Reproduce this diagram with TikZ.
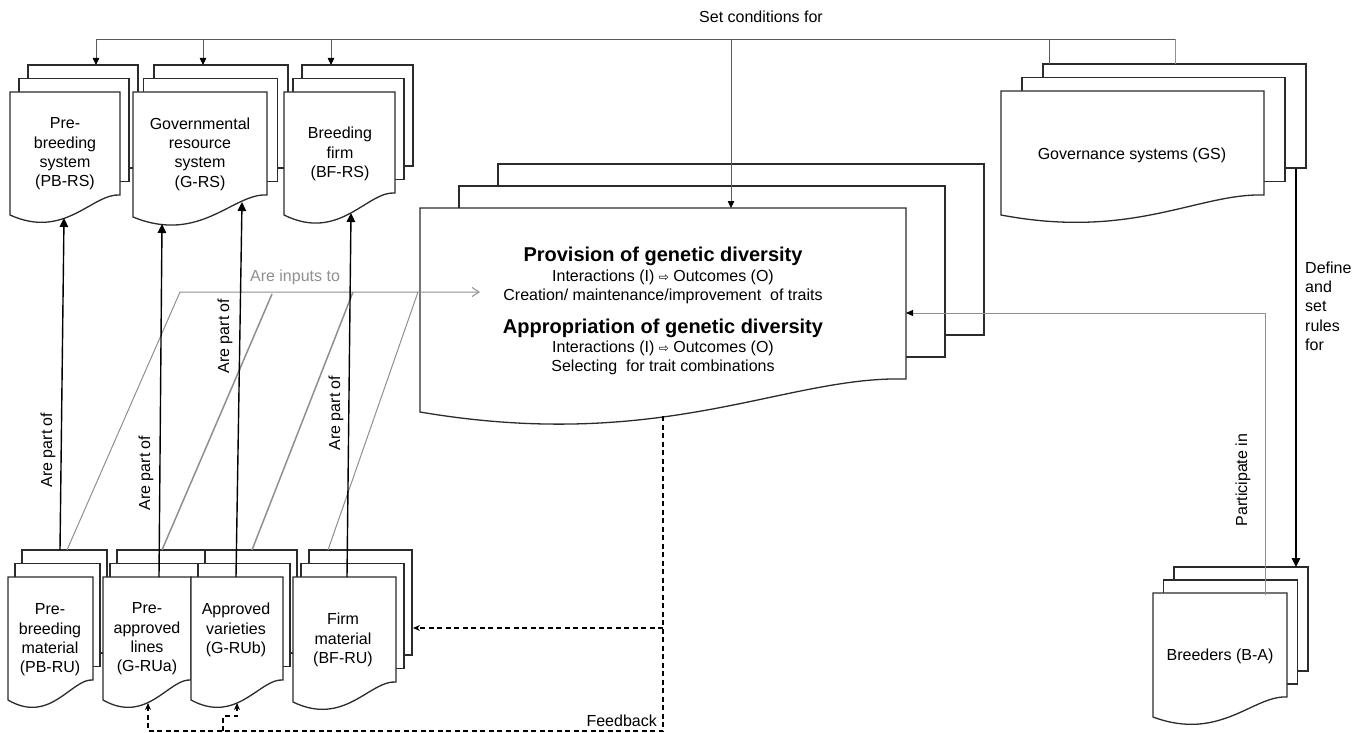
\documentclass[tikz,border=0pt]{standalone}
\usepackage{fontspec}
\setmainfont{Liberation Sans}
\newfontfamily\arrowfont{DejaVu Sans}
\usetikzlibrary{arrows.meta}

\definecolor{docline}{HTML}{2B2B2B}
\definecolor{inputgray}{HTML}{8F8F8F}
\definecolor{busgray}{HTML}{5A5A5A}

% one page with a wavy bottom: left, top, right, bottom-left, bottom-right
\newcommand{\docpage}[5]{%
  \filldraw[doc] (#1,#2) -- (#3,#2) -- (#3,#5)
    .. controls ({#1+0.75*(#3-#1)},{#5-0.1*(#4-#5)}) and ({#1+0.5*(#3-#1)},{#4+1.25*(#4-#5)}) .. (#1,#4) -- cycle;
}
% three pages: left, top, right, bottom-left, bottom-right, dx, dy
\newcommand{\docstack}[7]{%
  \filldraw[doc] ({#1+2*#6},{#2-2*#7}) rectangle ({#3+2*#6},{#5-2*#7});
  \filldraw[doc] ({#1+#6},{#2-#7}) rectangle ({#3+#6},{#5-#7});
  \docpage{#1}{#2}{#3}{#4}{#5}
}

\begin{document}
\begin{tikzpicture}[x=1pt,y=-1pt,>={Triangle[length=9pt,width=8.5pt]},
  doc/.style={draw=docline,fill=white,line width=1.3pt},
  lbl/.style={font=\fontsize{16}{19.3}\selectfont,align=center,inner sep=0pt},
  head/.style={font=\fontsize{20}{22}\selectfont\bfseries,inner sep=0pt},
  partof/.style={->,line width=1.4pt},
  setcond/.style={busgray,line width=0.8pt,-{Triangle[length=7pt,width=6.5pt,black]}},
  inputs/.style={inputgray,line width=1pt},
  feedback/.style={dash pattern=on 5pt off 3.5pt,line width=1.1pt,-{Stealth[length=7pt,width=6pt]}}]
\useasboundingbox (0,0) rectangle (1366,733);

% resource systems
\docstack{10}{92}{120}{215}{195}{9}{13.5}
\docstack{133}{92}{267}{217}{195}{10.5}{13.5}
\docstack{284}{92}{395}{215}{193}{9}{13.5}
% governance, action situation, actors
\docstack{1001}{91}{1264}{215}{195}{21}{13.5}
\docstack{420}{208}{906}{412}{379}{39}{22}
\docstack{1153}{593}{1287}{717}{697}{10.5}{13}
% resource units
\docstack{8}{577}{93}{700}{680}{7}{13.5}
\docstack{103}{577}{191}{700}{680}{7}{13.5}
\docstack{191}{577}{283}{700}{680}{7}{13.5}
\docstack{293}{577}{396}{702}{682}{8}{13.5}

\node[lbl] (pbrs) at (65,154) {Pre-\\breeding\\system\\(PB-RS)};
\node[lbl] (grs) at (200,154) {Governmental\\resource\\system\\(G-RS)};
\node[lbl] (bfrs) at (340,154) {Breeding\\firm\\(BF-RS)};
\node[lbl] (gs) at (1132,155) {Governance systems (GS)};
\node[lbl] (ba) at (1220,656) {Breeders (B-A)};
\node[lbl] (pbru) at (50,640) {Pre-\\breeding\\material\\(PB-RU)};
\node[lbl] (grua) at (147,639) {Pre-\\approved\\lines\\(G-RUa)};
\node[lbl] (grub) at (236,630) {Approved\\varieties\\(G-RUb)};
\node[lbl] (bfru) at (343,640) {Firm\\material\\(BF-RU)};
\node[head] (provhead) at (663,256) {Provision of genetic diversity};
\node[lbl] (provbody) at (663,287) {Interactions (I) {\arrowfont\fontsize{12}{14}\selectfont ⇨} Outcomes (O)\\Creation/ maintenance/improvement\ \ of traits};
\node[head] (apphead) at (663,328) {Appropriation of genetic diversity};
\node[lbl] (appbody) at (663,358) {Interactions (I) {\arrowfont\fontsize{12}{14}\selectfont ⇨} Outcomes (O)\\Selecting\ \ for trait combinations};

% connector ends
\coordinate (bus-l) at (96,39);
\coordinate (bus-r) at (1175,39);
\coordinate (pbrs-top) at (96,65);
\coordinate (grs-top) at (203,65);
\coordinate (bfrs-top) at (331,65);
\coordinate (main-top) at (731,208);
\coordinate (gs-top-a) at (1049,64);
\coordinate (gs-top-b) at (1175,64);
\coordinate (pbrs-in) at (64,218);
\coordinate (grs-in-a) at (162,224);
\coordinate (grs-in-b) at (242,202);
\coordinate (bfrs-in) at (351,213);
\coordinate (pbru-out) at (60,550);
\coordinate (grua-out) at (159,577);
\coordinate (grub-out) at (236,577);
\coordinate (bfru-out) at (347,577);
\coordinate (pbru-in1) at (67,550);
\coordinate (grua-in1) at (162,550);
\coordinate (grub-in1) at (252,550);
\coordinate (bfru-in1) at (328,550);
\coordinate (inputs-bend) at (180,292);
\coordinate (grua-join) at (272,294);
\coordinate (grub-join) at (353,292);
\coordinate (bfru-join) at (418,292);
\coordinate (main-inputs) at (480,292);
\coordinate (gs-out) at (1296,169);
\coordinate (ba-in) at (1296,567);
\coordinate (ba-out) at (1265,595);
\coordinate (main-in) at (906,313);
\coordinate (main-out) at (663,416);
\coordinate (fb-corner) at (663,731);
\coordinate (fb-split) at (223,731);
\coordinate (fb-step) at (223,716);
\coordinate (fb-mid) at (663,628);
\coordinate (grua-in) at (148,703);
\coordinate (grub-in) at (237,703);
\coordinate (bfru-in) at (413,628);

% set conditions for
\draw[busgray,line width=0.9pt] (bus-l) -- (bus-r);
\foreach \t in {pbrs-top,grs-top,bfrs-top,main-top}
  \draw[setcond] (\t |- bus-l) -- (\t);
\draw[busgray,line width=0.8pt] (gs-top-a |- bus-l) -- (gs-top-a);
\draw[inputgray,line width=0.8pt] (gs-top-b |- bus-l) -- (gs-top-b);
\node[lbl] (setlbl) at (761,17) {Set conditions for};

% are inputs to
\draw[inputs,-{Straight Barb[length=7pt,width=9pt]}] (pbru-in1) -- (inputs-bend) -- (main-inputs);
\draw[inputs,line width=1.5pt] (grua-in1) -- (grua-join);
\draw[inputs,line width=1.5pt] (grub-in1) -- (grub-join);
\draw[inputs] (bfru-in1) -- (bfru-join);
\node[lbl,text=inputgray] (inlbl) at (295,277) {Are inputs to};

% are part of
\draw[partof] (pbru-out) -- (pbrs-in);
\draw[partof] (grua-out) -- (grs-in-a);
\draw[partof] (grub-out) -- (grs-in-b);
\draw[partof] (bfru-out) -- (bfrs-in);
\node[lbl,rotate=90] (part1) at (48,450) {Are part of};
\node[lbl,rotate=90] (part2) at (146,473) {Are part of};
\node[lbl,rotate=90] (part3) at (225,336) {Are part of};
\node[lbl,rotate=90] (part4) at (336,413) {Are part of};

% rules and participation
\draw[partof] (gs-out) -- (ba-in);
\node[lbl,align=left,anchor=west] (rulelbl) at (1305,306) {Define\\and\\set\\rules\\for};
\draw[inputgray,line width=1pt,-{Triangle[length=7pt,width=6pt,black]}] (ba-out) |- (main-in);
\node[lbl,rotate=90] (partlbl) at (1243,480) {Participate in};

% feedback
\draw[feedback] (main-out) -- (fb-corner) -| (grua-in);
\draw[feedback] (fb-split) -- (fb-step) -| (grub-in);
\draw[feedback] (fb-mid) -- (bfru-in);
\node[lbl,anchor=east] (fblbl) at (657,721) {Feedback};
\end{tikzpicture}
\end{document}
